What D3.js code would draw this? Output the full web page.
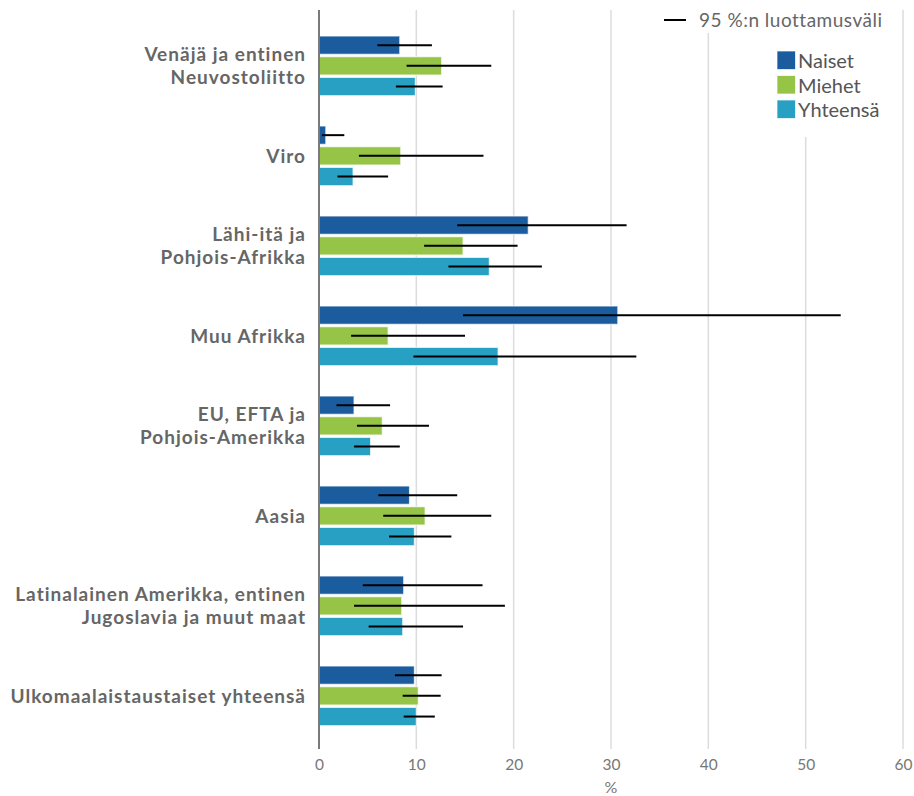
<!DOCTYPE html>
<html>
<head>
<meta charset="utf-8">
<script src="https://cdn.jsdelivr.net/npm/d3@7"></script>
<style>
  html, body { margin: 0; padding: 0; background: #fff; }
  svg { display: block; font-family: Lato, "Noto Sans", sans-serif; }
</style>
</head>
<body>
<svg id="chart" width="914" height="796"></svg>
<script>
// Region groups, drawn top to bottom; each label is split onto its printed lines
const categories = [
  "Venäjä ja entinen Neuvostoliitto",
  "Viro",
  "Lähi-itä ja Pohjois-Afrikka",
  "Muu Afrikka",
  "EU, EFTA ja Pohjois-Amerikka",
  "Aasia",
  "Latinalainen Amerikka, entinen Jugoslavia ja muut maat",
  "Ulkomaalaistaustaiset yhteensä"
];
const categoryLines = [
  ["Venäjä ja entinen", "Neuvostoliitto"],
  ["Viro"],
  ["Lähi-itä ja", "Pohjois-Afrikka"],
  ["Muu Afrikka"],
  ["EU, EFTA ja", "Pohjois-Amerikka"],
  ["Aasia"],
  ["Latinalainen Amerikka, entinen", "Jugoslavia ja muut maat"],
  ["Ulkomaalaistaustaiset yhteensä"]
];

const seriesNames = ["Naiset", "Miehet", "Yhteensä"];

// Shares (%) with 95 % confidence limits
const naiset     = [8.3, 0.7, 21.5, 30.7, 3.6, 9.3, 8.7, 9.8];
const naisetLow  = [6.0, 0.3, 14.2, 14.8, 1.8, 6.1, 4.5, 7.8];
const naisetHigh = [11.6, 2.6, 31.6, 53.6, 7.3, 14.2, 16.8, 12.6];

const miehet     = [12.6, 8.4, 14.8, 7.1, 6.5, 10.9, 8.5, 10.2];
const miehetLow  = [9.0, 4.1, 10.8, 3.3, 3.9, 6.6, 3.6, 8.6];
const miehetHigh = [17.7, 16.9, 20.4, 15.0, 11.3, 17.7, 19.1, 12.5];

const yhteensa     = [9.9, 3.5, 17.5, 18.4, 5.3, 9.8, 8.6, 10.0];
const yhteensaLow  = [7.9, 1.9, 13.3, 9.7, 3.6, 7.2, 5.1, 8.7];
const yhteensaHigh = [12.7, 7.1, 22.9, 32.6, 8.3, 13.6, 14.8, 11.9];

const xTicks = [0, 10, 20, 30, 40, 50, 60];
const xTitle = "%";
const ciLabel = "95 %:n luottamusväli";

const colors = { "Naiset": "#1a5c9e", "Miehet": "#95c447", "Yhteensä": "#28a0c4" };

// Flatten into rows for drawing
const seriesData = {
  "Naiset":   [naiset, naisetLow, naisetHigh],
  "Miehet":   [miehet, miehetLow, miehetHigh],
  "Yhteensä": [yhteensa, yhteensaLow, yhteensaHigh]
};
const rows = [];
categories.forEach((c, i) => {
  seriesNames.forEach(s => {
    const [v, lo, hi] = seriesData[s];
    rows.push({ category: c, series: s, value: v[i], low: lo[i], high: hi[i] });
  });
});

const svg = d3.select("#chart");

const x = d3.scaleLinear().domain([0, 60]).range([319, 903]);
const y = d3.scaleBand().domain(categories).range([21, 741]);
const ySub = d3.scaleBand().domain(seriesNames).range([15, 74.7]).paddingInner(0.116);

const plotTop = 10, plotBottom = 749;

// Vertical gridlines
svg.append("g")
  .selectAll("line")
  .data(xTicks.filter(t => t > 0))
  .join("line")
  .attr("x1", d => x(d)).attr("x2", d => x(d))
  .attr("y1", plotTop).attr("y2", plotBottom)
  .attr("stroke", "#dcdcdc")
  .attr("stroke-width", 1.5);

// Bars
svg.append("g")
  .selectAll("rect")
  .data(rows)
  .join("rect")
  .attr("x", x(0))
  .attr("y", d => y(d.category) + ySub(d.series))
  .attr("width", d => x(d.value) - x(0))
  .attr("height", ySub.bandwidth())
  .attr("fill", d => colors[d.series])
  .attr("stroke", "#ffffff")
  .attr("stroke-opacity", 0.7)
  .attr("stroke-width", 1.2);

// Confidence interval whiskers
svg.append("g")
  .selectAll("line")
  .data(rows)
  .join("line")
  .attr("x1", d => x(d.low))
  .attr("x2", d => x(d.high))
  .attr("y1", d => y(d.category) + ySub(d.series) + ySub.bandwidth() / 2)
  .attr("y2", d => y(d.category) + ySub(d.series) + ySub.bandwidth() / 2)
  .attr("stroke", "#000")
  .attr("stroke-width", 2);

// Value axis line at zero
svg.append("line")
  .attr("x1", x(0)).attr("x2", x(0))
  .attr("y1", plotTop).attr("y2", plotBottom)
  .attr("stroke", "#7a7a7a")
  .attr("stroke-width", 2);

// X axis tick labels
const xAxis = d3.axisBottom(x).tickValues(xTicks).tickSize(0).tickPadding(0);
const gx = svg.append("g")
  .attr("transform", `translate(0, ${plotBottom + 10})`)
  .call(xAxis);
gx.select(".domain").remove();
gx.selectAll("text")
  .attr("font-family", "Lato, 'Noto Sans', sans-serif")
  .attr("font-size", 15.5)
  .attr("fill", "#777")
  .attr("dy", "0.71em");

svg.append("text")
  .attr("x", x(30)).attr("y", 793)
  .attr("text-anchor", "middle")
  .attr("font-size", 16)
  .attr("fill", "#777")
  .text(xTitle);

// Category labels
const lineH = 23;
const labels = svg.append("g")
  .selectAll("text")
  .data(categories)
  .join("text")
  .attr("text-anchor", "end")
  .attr("font-weight", 700)
  .attr("font-size", 19)
  .attr("letter-spacing", 1.0)
  .attr("fill", "#666");
labels.each(function (d, i) {
  const lines = categoryLines[i];
  const cy = y(d) + y.bandwidth() / 2;
  const first = cy - (lines.length - 1) * lineH / 2;
  d3.select(this).selectAll("tspan")
    .data(lines)
    .join("tspan")
    .attr("x", 306)
    .attr("y", (l, j) => first + j * lineH)
    .attr("dy", "0.36em")
    .text(l => l);
});

// Legend: confidence interval
svg.append("rect")
  .attr("x", 655).attr("y", 0).attr("width", 240).attr("height", 33)
  .attr("fill", "#fff");
svg.append("line")
  .attr("x1", 664).attr("x2", 686).attr("y1", 20).attr("y2", 20)
  .attr("stroke", "#000").attr("stroke-width", 2);
svg.append("text")
  .attr("x", 699).attr("y", 27)
  .attr("font-size", 19)
  .attr("letter-spacing", 0.5)
  .attr("fill", "#666")
  .text(ciLabel);

// Legend: series
svg.append("rect")
  .attr("x", 760).attr("y", 33).attr("width", 135).attr("height", 104)
  .attr("fill", "#fff");
const leg = svg.append("g")
  .selectAll("g")
  .data(seriesNames)
  .join("g")
  .attr("transform", (d, i) => `translate(777, ${51 + i * 24.5})`);
leg.append("rect")
  .attr("width", 18.5).attr("height", 18.5)
  .attr("fill", d => colors[d])
  .attr("stroke", "#fff").attr("stroke-opacity", 0.7);
leg.append("text")
  .attr("x", 21).attr("y", 17)
  .attr("font-size", 20)
  .attr("fill", "#555")
  .text(d => d);
</script>
</body>
</html>
